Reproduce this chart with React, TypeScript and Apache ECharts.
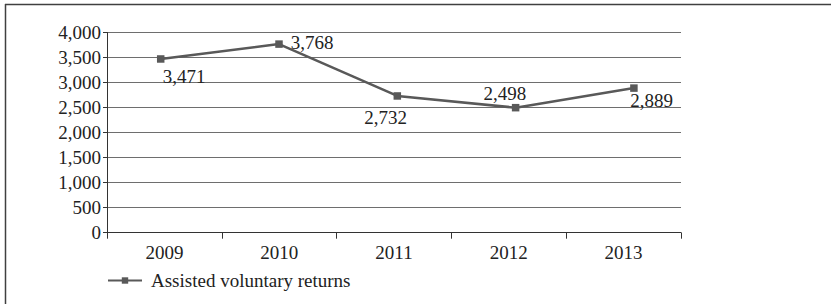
import React, { useEffect, useRef } from "react";
import * as echarts from "echarts";

const categories = ["2009", "2010", "2011", "2012", "2013"];
const seriesName = "Assisted voluntary returns";
const values = [3471, 3768, 2732, 2498, 2889];

const FONT = "'Liberation Serif', 'Times New Roman', serif";

export default function App() {
  const ref = useRef<HTMLDivElement>(null);
  useEffect(() => {
    if (!ref.current) return;
    const chart = echarts.init(ref.current, undefined, { renderer: "svg" });
    const labelOffsets: [number, number][] = [
      [23.5, 17.7],
      [33, -2],
      [-11.7, 22],
      [-10.7, -13.7],
      [17.7, 12.6],
    ];
    const fmt = (v: number) => v.toLocaleString("en-US");
    chart.setOption({
      animation: false,
      backgroundColor: "#fff",
      grid: { left: 107, top: 32.5, right: 150, bottom: 71.3, containLabel: false },
      xAxis: [
        {
          type: "category",
          data: categories,
          boundaryGap: true,
          axisLine: { lineStyle: { color: "#333", width: 1 } },
          axisTick: { show: true, length: 6, lineStyle: { color: "#333" } },
          axisLabel: { fontFamily: FONT, fontSize: 19, color: "#222", margin: 10 },
        },
        {
          type: "value",
          show: false,
          position: "bottom",
          min: -0.454,
          max: 4.398,
          splitLine: { show: false },
        },
      ],
      yAxis: {
        type: "value",
        min: 0,
        max: 4000,
        interval: 500,
        axisLine: { show: true, onZero: false, lineStyle: { color: "#333", width: 1 } },
        axisTick: { show: true, length: 4, lineStyle: { color: "#333" } },
        axisLabel: {
          fontFamily: FONT,
          fontSize: 19,
          color: "#222",
          margin: 6,
          formatter: (v: number) => fmt(v),
        },
        splitLine: { lineStyle: { color: "#6e6e6e", width: 1.2 } },
      },
      legend: {
        left: 107,
        top: 271,
        padding: 0,
        itemWidth: 34,
        itemHeight: 8,
        textStyle: { fontFamily: FONT, fontSize: 19, color: "#222", padding: [0, 0, 0, 4] },
        data: [seriesName],
      },
      series: [
        {
          name: seriesName,
          type: "line",
          xAxisIndex: 1,
          symbol: "rect",
          symbolSize: 7.5,
          itemStyle: { color: "#595959" },
          lineStyle: { color: "#595959", width: 2.5 },
          data: values.map((v, i) => ({
            value: [i, v],
            label: {
              show: true,
              position: "inside",
              offset: labelOffsets[i],
              formatter: () => fmt(v),
              fontFamily: FONT,
              fontSize: 19,
              color: "#222",
            },
          })),
        },
      ],
      graphic: [
        {
          type: "line",
          shape: { x1: 5, y1: 4.5, x2: 831, y2: 4.5 },
          style: { stroke: "#404040", lineWidth: 1.5 },
        },
        {
          type: "line",
          shape: { x1: 5.5, y1: 4, x2: 5.5, y2: 304 },
          style: { stroke: "#404040", lineWidth: 1.5 },
        },
      ],
    });
    return () => chart.dispose();
  }, []);
  return (
    <div
      ref={ref}
      style={{ position: "fixed", left: 0, top: 0, width: 831, height: 304 }}
    />
  );
}
